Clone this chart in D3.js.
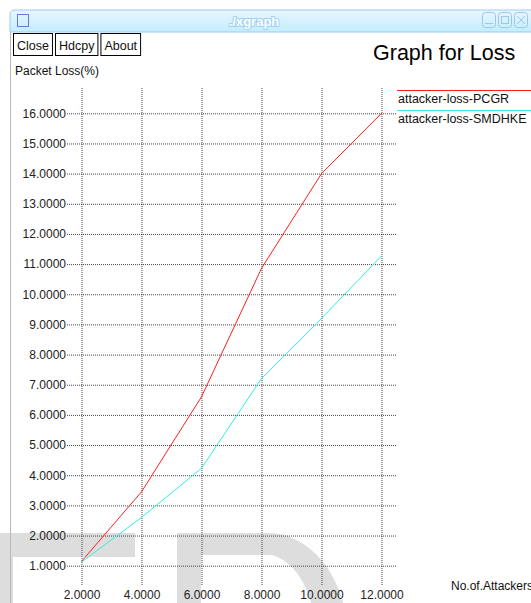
<!DOCTYPE html>
<html>
<head>
<meta charset="utf-8">
<script src="https://cdn.jsdelivr.net/npm/d3@7"></script>
<style>
  html, body { margin: 0; padding: 0; background: #fff; }
  svg { display: block; font-family: "Liberation Sans", Arial, sans-serif; }
</style>
</head>
<body>
<svg id="chart"></svg>
<script>
// values
const attackers = [2, 4, 6, 8, 10, 12]
const lossPCGR = [1.14, 3.45, 6.6, 10.86, 14.0, 16.0]
const lossSMDHKE = [1.12, 2.6, 4.23, 7.21, 9.2, 11.27]
const seriesNames = ['attacker-loss-PCGR', 'attacker-loss-SMDHKE']
const seriesColors = ['#ff1f1f', '#2ef0e0']
const xTicks = [2, 4, 6, 8, 10, 12]
const yTicks = [1, 2, 3, 4, 5, 6, 7, 8, 9, 10, 11, 12, 13, 14, 15, 16]
const buttons = ['Close', 'Hdcpy', 'About']

const W = 531, H = 603
const plot = { left: 67, right: 397, top: 88, bottom: 585 }

const svg = d3.select('#chart')
  .attr('width', W)
  .attr('height', H)

svg.append('rect')
  .attr('width', W)
  .attr('height', H)
  .attr('fill', '#fff')

// big faded watermark behind everything
svg.append('path')
  .attr('fill', '#dddddd')
  .attr('d', [
    'M-5,533 H135 V557 H13 V610 H-5 Z',
    'M177,533 H268 A80,107 0 0 1 345,610 H313 A52,85 0 0 0 272,555 H201 V610 H177 Z'
  ].join(' '))

// window chrome
const defs = svg.append('defs')
const grad = defs.append('linearGradient')
  .attr('id', 'titlebar')
  .attr('x1', 0).attr('y1', 0).attr('x2', 0).attr('y2', 1)
grad.append('stop').attr('offset', '0%').attr('stop-color', '#eaf6ff')
grad.append('stop').attr('offset', '100%').attr('stop-color', '#c2edff')

svg.append('path')
  .attr('d', 'M10,32 V15 Q10,10 15,10 H540 V32 Z')
  .attr('fill', 'url(#titlebar)')
  .attr('stroke', '#9ccbee')

svg.append('rect')
  .attr('x', 17.5).attr('y', 14.5)
  .attr('width', 11).attr('height', 12)
  .attr('fill', 'none')
  .attr('stroke', '#6678e0')

svg.append('text')
  .attr('x', 254).attr('y', 26)
  .attr('text-anchor', 'middle')
  .attr('font-size', 13)
  .attr('font-weight', 'bold')
  .attr('fill', '#fff')
  .attr('stroke', '#9fd2f2')
  .attr('stroke-width', 2)
  .attr('paint-order', 'stroke')
  .text('./xgraph')

const winButtons = svg.append('g')
  .attr('fill', 'none')
  .attr('stroke', '#9cc6ee')
winButtons.selectAll('rect.outer')
  .data([482, 498, 514])
  .join('rect')
  .attr('class', 'outer')
  .attr('x', d => d + 0.5).attr('y', 12.5)
  .attr('width', 13).attr('height', 15)
  .attr('rx', 3)
winButtons.append('line')
  .attr('x1', 485).attr('x2', 493).attr('y1', 23.5).attr('y2', 23.5)
winButtons.append('rect')
  .attr('x', 501.5).attr('y', 16.5).attr('width', 7).attr('height', 7)
winButtons.append('path')
  .attr('d', 'M517,16 L525,24 M525,16 L517,24')

svg.append('line')
  .attr('x1', 10.5).attr('x2', 10.5)
  .attr('y1', 32).attr('y2', H)
  .attr('stroke', '#b8b8b8')

// xgraph buttons
let bx = 13.5
buttons.forEach(label => {
  const g = svg.append('g')
  const t = g.append('text')
    .attr('y', 49.5)
    .attr('font-size', 12.5)
    .attr('fill', '#111')
    .text(label)
  const w = t.node().getComputedTextLength() + 7
  t.attr('x', bx + 3.5)
  g.insert('rect', 'text')
    .attr('x', bx).attr('y', 33.5)
    .attr('width', w).attr('height', 22)
    .attr('fill', '#fff')
    .attr('stroke', '#000')
  bx += w + 3
})

svg.append('text')
  .attr('x', 373).attr('y', 60)
  .attr('font-size', 21.5)
  .attr('fill', '#000')
  .text('Graph for Loss')

svg.append('text')
  .attr('x', 15).attr('y', 75)
  .attr('font-size', 12)
  .attr('fill', '#111')
  .text('Packet Loss(%)')

// scales
const x = d3.scaleLinear().domain([2, 12]).range([81.5, 381.5])
const y = d3.scaleLinear().domain([1, 16]).range([565.7, 113.3])

const axisY = d3.axisLeft(y)
  .tickValues(yTicks)
  .tickSize(-(plot.right - plot.left))
  .tickPadding(1)
  .tickFormat(d3.format('.4f'))

const axisX = d3.axisBottom(x)
  .tickValues(xTicks)
  .tickSize(-(plot.bottom - plot.top))
  .tickPadding(5)
  .tickFormat(d3.format('.4f'))

svg.append('g')
  .attr('transform', `translate(${plot.left}, 0)`)
  .call(axisY)
svg.append('g')
  .attr('transform', `translate(0, ${plot.bottom})`)
  .call(axisX)

svg.selectAll('.domain').remove()
svg.selectAll('.tick line')
  .attr('stroke', '#444')
  .attr('stroke-dasharray', '1,1')
svg.selectAll('.tick text')
  .attr('font-family', '"Liberation Sans", Arial, sans-serif')
  .attr('font-size', 12)
  .attr('fill', '#222')

svg.append('text')
  .attr('x', 451).attr('y', 590)
  .attr('font-size', 12)
  .attr('fill', '#111')
  .text('No.of.Attackers')

// series
const line = d3.line()
  .x(d => x(d[0]))
  .y(d => y(d[1]))

const series = [lossPCGR, lossSMDHKE]
series.forEach((vals, i) => {
  svg.append('path')
    .datum(attackers.map((a, j) => [a, vals[j]]))
    .attr('d', line)
    .attr('fill', 'none')
    .attr('stroke', seriesColors[i])
    .attr('stroke-width', 1)
})

// legend
const legend = svg.append('g')
seriesNames.forEach((name, i) => {
  const ly = 90.5 + i * 20
  legend.append('line')
    .attr('x1', 397).attr('x2', W)
    .attr('y1', ly).attr('y2', ly)
    .attr('stroke', seriesColors[i])
  legend.append('text')
    .attr('x', 398).attr('y', ly + 12)
    .attr('font-size', 12.5)
    .attr('fill', '#111')
    .text(name)
})
</script>
</body>
</html>
